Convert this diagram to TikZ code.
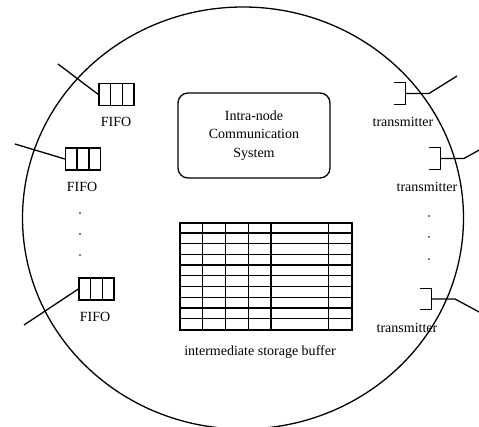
\documentclass[tikz,border=0pt]{standalone}
\usepackage{fontspec}
\setmainfont{Liberation Serif}
\usetikzlibrary{calc,positioning}
\tikzset{
  wire/.style={black,line width=1.3pt},
  fifo/.style={draw=black,line width=1.3pt,minimum width=35pt,minimum height=22pt,inner sep=0pt},
  xmit/.style={minimum width=11pt,minimum height=21pt,inner sep=0pt},
  lab/.style={font=\fontsize{14}{16}\selectfont,inner sep=0pt},
  dot/.style={fill=black,circle,inner sep=0pt,minimum size=1.8pt},
}

\begin{document}
\begin{tikzpicture}[x=1pt,y=-1pt]
  \path[use as bounding box] (0,0) rectangle (479,427);
  \clip (0,0) rectangle (479,427);
  % node boundary
  \draw[wire] (243,218) ellipse [x radius=220.5pt,y radius=211pt];

  % input FIFOs
  \node[fifo] (F1) at (116.5,94.5) {};
  \node[fifo] (F2) at (83,159) {};
  \node[fifo] (F3) at (96.5,289) {};
  \foreach \f in {F1,F2,F3} {
    \draw[wire] ($(\f.north west)!1/3!(\f.north east)$) -- ($(\f.south west)!1/3!(\f.south east)$);
    \draw[wire] ($(\f.north west)!2/3!(\f.north east)$) -- ($(\f.south west)!2/3!(\f.south east)$);
  }
  \node[lab] (LF1) at (116,122) {FIFO};
  \node[lab] (LF2) at (82,187) {FIFO};
  \node[lab] (LF3) at (95,317) {FIFO};
  \coordinate (IN1) at (58,64);
  \coordinate (IN2) at (15,144);
  \coordinate (IN3) at (24,325);
  \draw[wire] (IN1) -- (F1.west);
  \draw[wire] (IN2) -- (F2.west);
  \draw[wire] (IN3) -- (F3.west);
  \node[dot] (DL1) at (80,213) {};
  \node[dot] (DL2) at (80,234) {};
  \node[dot] (DL3) at (80,255) {};

  % intra-node communication system
  \node[draw=black,line width=1.3pt,rounded corners=10pt,minimum width=152pt,minimum height=85pt,
        align=center,lab,font=\fontsize{14}{18.5}\selectfont] (ICS) at (254,135.5)
    {Intra-node\\Communication\\System};

  % intermediate storage buffer
  \node[draw=black,line width=1.3pt,minimum width=172pt,minimum height=107pt,inner sep=0pt] (BUF) at (266,276.5) {};
  \foreach \r in {1,...,9}
    \draw[wire] ($(BUF.north west)+(0,\r*10.7)$) -- ($(BUF.north east)+(0,\r*10.7)$);
  \foreach \c in {23.3,46,69,91.7,149}
    \draw[wire] ($(BUF.north west)+(\c,0)$) -- ($(BUF.south west)+(\c,0)$);
  \node[lab] (LBUF) at (260,352) {intermediate storage buffer};

  % transmitters
  \node[xmit] (T1) at (400,93.5) {};
  \node[xmit] (T2) at (434.5,158.5) {};
  \node[xmit] (T3) at (425.5,299) {};
  \foreach \t in {T1,T2,T3}
    \draw[wire] (\t.north west) -- (\t.north east) -- (\t.south east) -- (\t.south west);
  \node[lab] (LT1) at (403,122) {transmitter};
  \node[lab] (LT2) at (427,187) {transmitter};
  \node[lab] (LT3) at (407,328) {transmitter};
  \coordinate (B1) at (429,93.5);
  \coordinate (B2) at (464,158.5);
  \coordinate (B3) at (455,299);
  \coordinate (OUT1) at (457,76);
  \coordinate (OUT2) at (481,149);
  \coordinate (OUT3) at (481,313);
  \draw[wire] (T1.east) -- (B1) -- (OUT1);
  \draw[wire] (T2.east) -- (B2) -- (OUT2);
  \draw[wire] (T3.east) -- (B3) -- (OUT3);
  \node[dot] (DR1) at (429,216) {};
  \node[dot] (DR2) at (429,237) {};
  \node[dot] (DR3) at (429,259) {};
\end{tikzpicture}
\end{document}
